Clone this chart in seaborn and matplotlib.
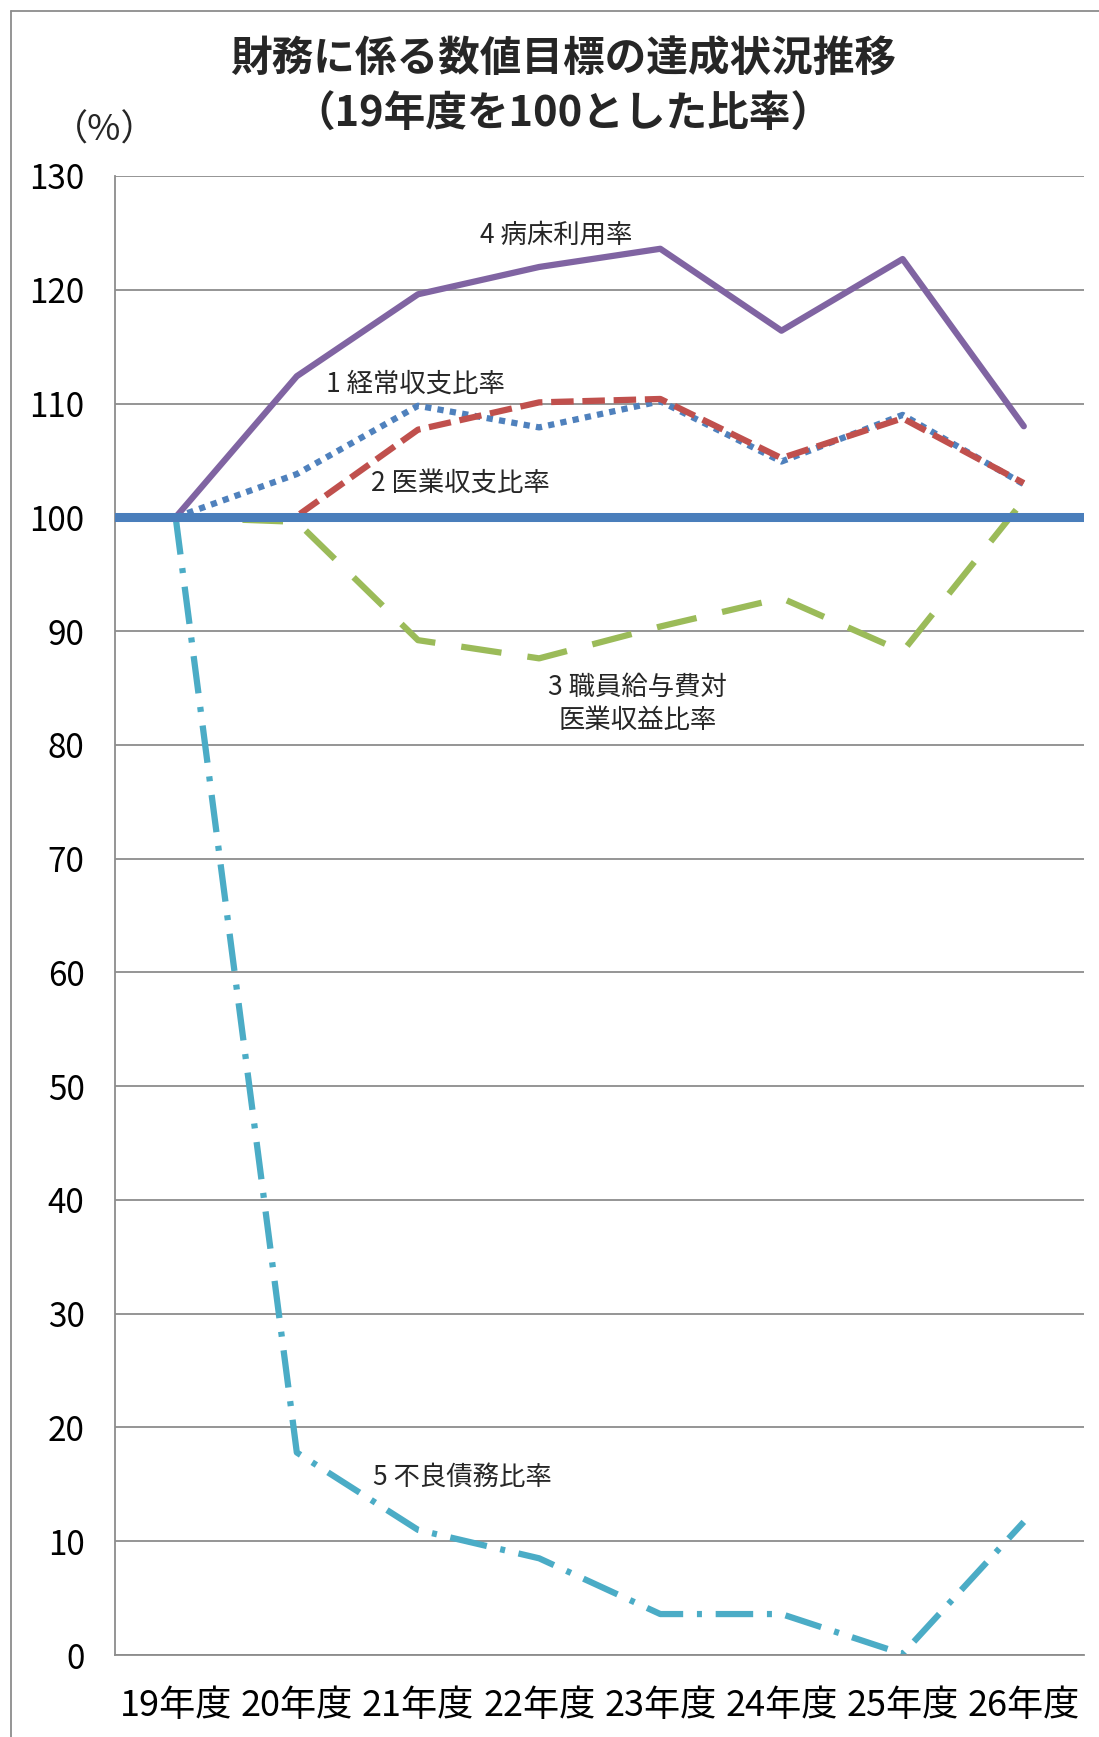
import matplotlib.pyplot as plt
import matplotlib.lines as mlines
import pandas as pd
import seaborn as sns

years = ["19年度", "20年度", "21年度", "22年度", "23年度", "24年度", "25年度", "26年度"]
keijo = [100, 103.8, 109.8, 107.9, 110.2, 104.9, 109.0, 102.9]
iryo = [100, 100.1, 107.7, 110.1, 110.4, 105.2, 108.7, 103.0]
kyuyo = [100, 99.6, 89.2, 87.6, 90.4, 92.9, 88.2, 101.5]
byosho = [100, 112.4, 119.6, 122.0, 123.6, 116.4, 122.7, 108.0]
furyo = [100, 17.8, 11.0, 8.5, 3.6, 3.6, 0.1, 11.7]
yticks = list(range(0, 131, 10))

sns.set_theme(style="white")
plt.rcParams["font.family"] = ["Noto Sans CJK JP", "DejaVu Sans"]

df = pd.DataFrame({"year": years, "keijo": keijo, "iryo": iryo,
                   "kyuyo": kyuyo, "byosho": byosho, "furyo": furyo})

fig = plt.figure(figsize=(10.99, 17.37), dpi=100)
ax = fig.add_axes([0.1047, 0.0472, 0.882, 0.8515])

# series: column, colour, dash pattern, width
series = [
    ("kyuyo", "#9BBB59", (6.5, 4.2), 4.5),
    ("furyo", "#4BACC6", (6, 2.2, 0.8, 2.2), 4.5),
    ("byosho", "#8064A2", None, 4.5),
    ("keijo", "#4F81BD", (1, 1), 4.5),
    ("iryo", "#C0504D", (3.6, 1.4), 4.5),
]
for col, color, dash, lw in series:
    sns.lineplot(data=df, x="year", y=col, color=color, linewidth=lw,
                 ax=ax, sort=False, legend=False)
    line = ax.lines[-1]
    if dash is not None:
        line.set_dashes(dash)
        line.set_dash_capstyle("butt")

ax.axhline(100, color="#4A7EBB", linewidth=6.5, zorder=5)

ax.set_xlim(-0.5, 7.5)
ax.set_ylim(0, 130)
ax.set_yticks(yticks)
ax.set_xlabel("")
ax.set_ylabel("")
ax.yaxis.grid(True, color="#8C8C8C", linewidth=1.3)
ax.set_axisbelow(True)
for s in ["top", "right"]:
    ax.spines[s].set_visible(False)
for s in ["left", "bottom"]:
    ax.spines[s].set_color("#8C8C8C")
    ax.spines[s].set_linewidth(1.3)
ax.tick_params(axis="y", length=0, pad=22, labelsize=24, colors="black")
ax.tick_params(axis="x", length=0, pad=24, labelsize=26, colors="black")

fs = 19
ax.text(3.14, 124.8, "4 病床利用率", fontsize=fs, ha="center", va="center")
ax.text(1.975, 111.7, "1 経常収支比率", fontsize=fs, ha="center", va="center")
ax.text(2.35, 103.0, "2 医業収支比率", fontsize=fs, ha="center", va="center")
ax.text(3.81, 83.6, "3 職員給与費対\n医業収益比率", fontsize=fs, ha="center",
        va="center", linespacing=1.3)
ax.text(2.37, 15.6, "5 不良債務比率", fontsize=fs, ha="center", va="center")

fig.text(0.512, 0.966, "財務に係る数値目標の達成状況推移", fontsize=30,
         fontweight="bold", ha="center", va="center")
fig.text(0.512, 0.934, "（19年度を100とした比率）", fontsize=30,
         fontweight="bold", ha="center", va="center")
fig.text(0.0955, 0.925, "（%）", fontsize=26, ha="center", va="center")

# chart area border
fig.add_artist(mlines.Line2D([0.01, 1.0], [0.9937, 0.9937], color="#8C8C8C", lw=1.3))
fig.add_artist(mlines.Line2D([0.01, 0.01], [0.0, 0.9937], color="#8C8C8C", lw=1.3))

fig.savefig("out.png", dpi=100)
